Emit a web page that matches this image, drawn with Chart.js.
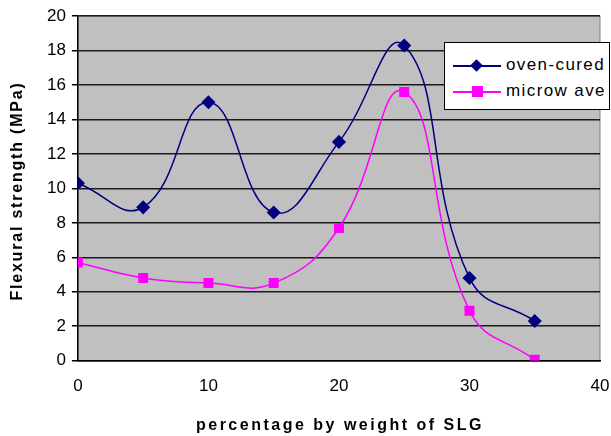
<!DOCTYPE html>
<html>
<head>
<meta charset="utf-8">
<script src="https://cdn.jsdelivr.net/npm/chart.js@4"></script>
<style>
  html, body { margin: 0; padding: 0; background: #fff; }
  #wrap { position: relative; width: 611px; height: 436px; }
  #legend {
    position: absolute; left: 444px; top: 42px; width: 166px; height: 68px;
    background: #fff; border: 1px solid #000; box-sizing: border-box;
    font-family: "Liberation Sans", Arial, sans-serif; font-size: 17px; color: #000;
    letter-spacing: 1.4px;
  }
  #legend .row { position: absolute; left: 6px; height: 20px; }
  #legend .line { position: absolute; left: 2px; top: 10px; width: 48px; height: 1.5px; }
  #legend .mark { position: absolute; left: 21px; }
  #legend .txt { position: absolute; left: 55px; top: 0; white-space: nowrap; }
</style>
</head>
<body>
<div id="wrap">
  <canvas id="chart" width="611" height="436"></canvas>
  <div id="legend"></div>
</div>
<script>
const xValues = [0, 5, 10, 15, 20, 25, 30, 35];
const ovenCured = [10.3, 8.9, 15.0, 8.6, 12.7, 18.3, 4.8, 2.3];
const microwave = [5.7, 4.8, 4.5, 4.5, 7.7, 15.6, 2.9, 0.05];
const seriesNames = ["oven-cured", "microw ave"];
const seriesColors = ["#000080", "#FF00FF"];
const xTitle = "percentage by weight of SLG";
const yTitle = "Flexural strength (MPa)";

const toPoints = (ys) => xValues.map((x, i) => ({ x: x, y: ys[i] }));

const fontFamily = "'Liberation Sans', Arial, sans-serif";

// grey plot area, drawn under everything
const plotBg = {
    id: "plotBg",
    beforeDraw(chart) {
        const a = chart.chartArea;
        const c = chart.ctx;
        c.save();
        c.fillStyle = "#C0C0C0";
        c.fillRect(a.left, a.top, a.right - a.left, a.bottom - a.top);
        c.strokeStyle = "#808080";
        c.lineWidth = 1;
        c.strokeRect(a.left, a.top, a.right - a.left, a.bottom - a.top);
        c.restore();
    }
};

// axis titles with letter spacing (the built-in titles can't do that)
const spacedTitles = {
    id: "spacedTitles",
    afterDraw(chart) {
        const a = chart.chartArea;
        const c = chart.ctx;
        c.save();
        c.fillStyle = "#000";
        c.font = "bold 16px " + fontFamily;
        c.textAlign = "center";
        c.textBaseline = "middle";
        c.letterSpacing = "2.5px";
        c.fillText(xTitle, (a.left + a.right) / 2 + 1, 426);
        c.letterSpacing = "1.8px";
        c.translate(18, 191);
        c.rotate(-Math.PI / 2);
        c.fillText(yTitle, 0, 0);
        c.restore();
    }
};

const font = { family: fontFamily, size: 17 };

new Chart(document.getElementById("chart"), {
    type: "line",
    data: {
        datasets: [
            {
                label: seriesNames[0],
                data: toPoints(ovenCured),
                borderColor: seriesColors[0],
                backgroundColor: seriesColors[0],
                borderWidth: 1.5,
                pointStyle: "rectRot",
                pointRadius: 6,
                tension: 0.45,
                fill: false
            },
            {
                label: seriesNames[1],
                data: toPoints(microwave),
                borderColor: seriesColors[1],
                backgroundColor: seriesColors[1],
                borderWidth: 1.5,
                pointStyle: "rect",
                pointRadius: 6,
                tension: 0.45,
                fill: false
            }
        ]
    },
    options: {
        responsive: false,
        animation: false,
        layout: { padding: { top: 8, right: 11, left: 41, bottom: 29 } },
        plugins: {
            legend: { display: false },
            tooltip: { enabled: false }
        },
        scales: {
            x: {
                type: "linear",
                min: 0,
                max: 40,
                ticks: { stepSize: 10, color: "#000", font: font, padding: 10 },
                grid: { display: false, drawTicks: true, tickLength: 6 },
                border: { color: "#000", width: 1.5 },
                afterFit(scale) {
                    scale.paddingRight = 0;
                }
            },
            y: {
                min: 0,
                max: 20,
                ticks: { stepSize: 2, color: "#000", font: font, padding: 6 },
                grid: { color: "#1a1a1a", lineWidth: 1.5, tickLength: 6, tickColor: "#000", drawOnChartArea: true },
                border: { color: "#000", width: 1.5 }
            }
        }
    },
    plugins: [plotBg, spacedTitles]
});

const legend = document.getElementById("legend");
seriesNames.forEach((name, i) => {
    const row = document.createElement("div");
    row.className = "row";
    row.style.top = (i === 0 ? 12 : 38) + "px";
    const line = document.createElement("div");
    line.className = "line";
    line.style.background = seriesColors[i];
    const mark = document.createElement("div");
    mark.className = "mark";
    mark.style.background = seriesColors[i];
    if (i === 0) {
        mark.style.width = "9px"; mark.style.height = "9px"; mark.style.top = "6px";
        mark.style.transform = "rotate(45deg)";
    } else {
        mark.style.width = "11px"; mark.style.height = "11px"; mark.style.top = "5px";
    }
    const txt = document.createElement("div");
    txt.className = "txt";
    txt.textContent = name;
    row.appendChild(line);
    row.appendChild(mark);
    row.appendChild(txt);
    legend.appendChild(row);
});
</script>
</body>
</html>
